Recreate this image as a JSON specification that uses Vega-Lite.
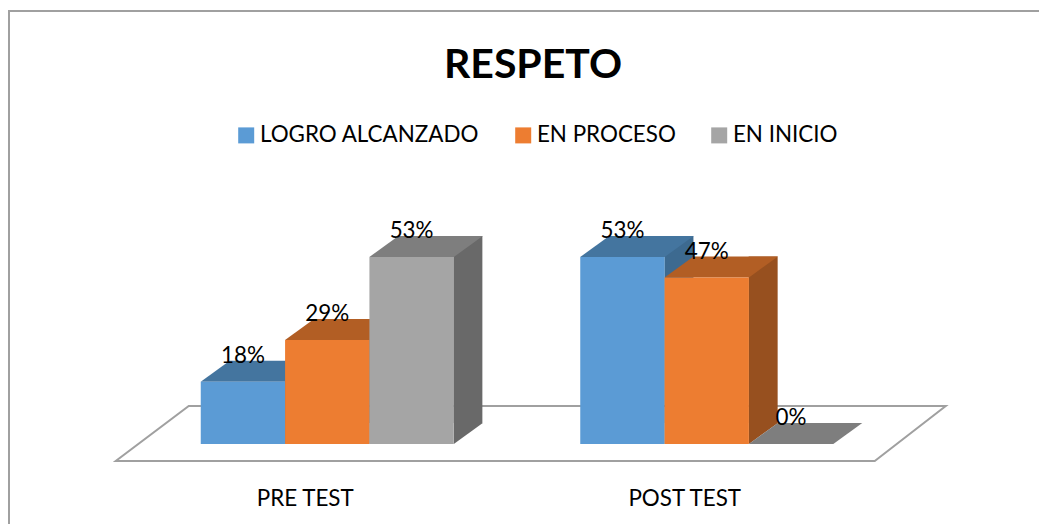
{
 "$schema":"https://vega.github.io/schema/vega-lite/v6.json",
 "width":1036,"height":518,
 "autosize":{"type":"none"},
 "padding":{"left":9,"top":11,"right":0,"bottom":0},
 "background":"white",
 "config":{"view":{"stroke":"#a0a0a0","strokeWidth":2},"font":"Lato"},
 "title":{"text":"RESPETO","font":"Lato","fontSize":41,"fontWeight":"bold","color":"#000000","anchor":"middle","frame":"group","offset":0,"dx":6,"dy":76},
 "datasets":{"barras":[
  {"prueba":"PRE TEST","nivel":"LOGRO ALCANZADO","valor":0.176},
  {"prueba":"PRE TEST","nivel":"EN PROCESO","valor":0.294},
  {"prueba":"PRE TEST","nivel":"EN INICIO","valor":0.529},
  {"prueba":"POST TEST","nivel":"LOGRO ALCANZADO","valor":0.529},
  {"prueba":"POST TEST","nivel":"EN PROCESO","valor":0.471},
  {"prueba":"POST TEST","nivel":"EN INICIO","valor":0.0}
 ]},
 "data":{"name":"barras"},
 "encoding":{
  "x":{"field":"prueba","type":"nominal","sort":["PRE TEST","POST TEST"],"title":null,
   "scale":{"type":"band","range":[128.5,887.5],"paddingInner":0,"paddingOuter":0},
   "axis":{"domain":false,"ticks":false,"grid":false,"labelAngle":0,"offset":-46,"labelPadding":4,"labelOffset":-22,"labelFont":"Lato","labelFontSize":22.4,"labelColor":"#000000"}},
  "y":{"field":"valor","type":"quantitative","axis":null,"scale":{"domain":[0,0.529],"range":[433,246],"nice":false}}
 },
 "layer":[
  {"data":{"values":[{"prueba":"PRE TEST","valor":0}]},
   "mark":{"type":"point","filled":false,"opacity":1,"size":4,"strokeWidth":2,"shape":"M-211.5,17L547.5,17L618.5,-38L-138.5,-38Z"},
   "encoding":{"stroke":{"value":"#a0a0a0"},"fill":{"value":"#ffffff"}}},
  {"layer":[
    {"transform":[{"filter":"datum.valor > 0"}],
     "mark":{"type":"bar","width":29,"yOffset":-21,"y2Offset":-21},
     "encoding":{
      "xOffset":{"field":"nivel","type":"nominal","sort":["LOGRO ALCANZADO","EN PROCESO","EN INICIO"],"scale":{"type":"band","range":[56.65,435.65],"paddingInner":0,"paddingOuter":0.75}},
      "color":{"field":"nivel","type":"nominal","legend":null,"scale":{"domain":["LOGRO ALCANZADO","EN PROCESO","EN INICIO"],"range":["#3d6a90","#97501f","#696969"]}}}}
  ]},
  {"transform":[{"filter":"datum.valor > 0"}],
   "mark":{"type":"point","filled":true,"opacity":1,"size":4,"shape":"M42.2,0L42.2,-21L71.2,-21Z"},
   "encoding":{"xOffset":{"field":"nivel","type":"nominal","sort":["LOGRO ALCANZADO","EN PROCESO","EN INICIO"],"scale":{"type":"band","paddingInner":0,"paddingOuter":0.75}},"y":{"datum":0},"color":{"field":"nivel","type":"nominal","legend":null,"scale":{"domain":["LOGRO ALCANZADO","EN PROCESO","EN INICIO"],"range":["#3d6a90","#97501f","#696969"]}}}},
  {"mark":{"type":"point","filled":true,"opacity":1,"size":4,"shape":"M-42.2,0L42.2,0L71.2,-21L-13.2,-21Z"},
   "encoding":{"xOffset":{"field":"nivel","type":"nominal","sort":["LOGRO ALCANZADO","EN PROCESO","EN INICIO"],"scale":{"type":"band","paddingInner":0,"paddingOuter":0.75}},"color":{"field":"nivel","type":"nominal","legend":null,"scale":{"domain":["LOGRO ALCANZADO","EN PROCESO","EN INICIO"],"range":["#44759f","#b25e24","#7e7e7e"]}}}},
  {"transform":[{"filter":"datum.valor > 0"}],
   "mark":{"type":"bar"},
   "encoding":{"xOffset":{"field":"nivel","type":"nominal","sort":["LOGRO ALCANZADO","EN PROCESO","EN INICIO"],"scale":{"type":"band","paddingInner":0,"paddingOuter":0.75}},"color":{"field":"nivel","type":"nominal","scale":{"domain":["LOGRO ALCANZADO","EN PROCESO","EN INICIO"],"range":["#5b9bd5","#ed7d31","#a5a5a5"]},
    "legend":{"title":null,"orient":"none","legendX":226,"legendY":113,"direction":"horizontal","columns":3,"symbolType":"square","symbolSize":256,"symbolStrokeWidth":0,"labelFont":"Lato","labelFontSize":22.4,"labelColor":"#000000","labelOffset":2.5,"labelLimit":400,"columnPadding":32,"symbolOpacity":1}}}},
  {"mark":{"type":"text","dy":-26,"font":"Lato","fontSize":22.4,"color":"#000000","baseline":"middle","align":"center"},
   "encoding":{"xOffset":{"field":"nivel","type":"nominal","sort":["LOGRO ALCANZADO","EN PROCESO","EN INICIO"],"scale":{"type":"band","paddingInner":0,"paddingOuter":0.75}},"text":{"field":"valor","type":"quantitative","format":".0%"}}}
 ],
 "resolve":{"scale":{"color":"independent","xOffset":"independent"}}
}
